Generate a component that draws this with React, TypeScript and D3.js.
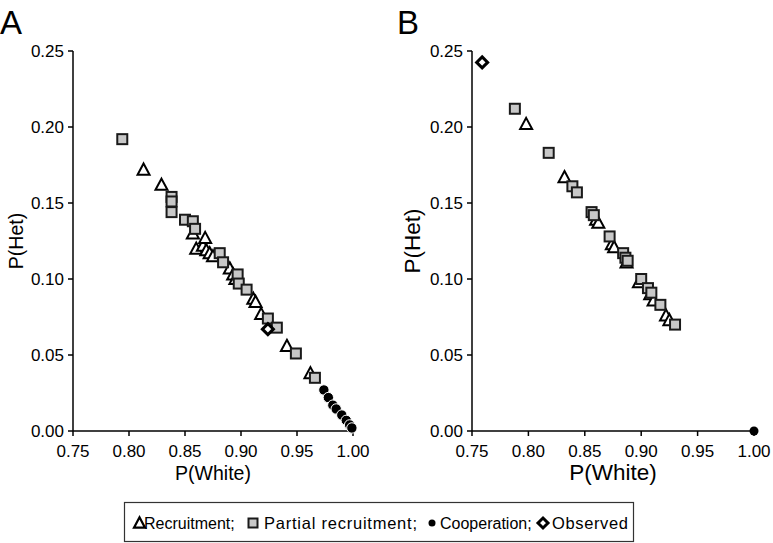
import React from "react";
import * as d3 from "d3";

const xTicks = [0.75, 0.8, 0.85, 0.9, 0.95, 1.0];
const yTicks = [0, 0.05, 0.1, 0.15, 0.2, 0.25];

const aRecruitment: [number, number][] = [
  [0.813, 0.172], [0.829, 0.162], [0.857, 0.130], [0.860, 0.120], [0.866, 0.122],
  [0.868, 0.127], [0.869, 0.119], [0.872, 0.117], [0.875, 0.115], [0.890, 0.107],
  [0.893, 0.103], [0.895, 0.100], [0.911, 0.087], [0.913, 0.085], [0.918, 0.077],
  [0.941, 0.056], [0.962, 0.038],
];
const aPartial: [number, number][] = [
  [0.794, 0.192], [0.838, 0.154], [0.838, 0.151], [0.838, 0.144], [0.850, 0.139],
  [0.857, 0.138], [0.859, 0.133], [0.881, 0.117], [0.884, 0.111], [0.897, 0.103],
  [0.898, 0.097], [0.905, 0.093], [0.924, 0.074], [0.932, 0.068], [0.949, 0.051],
  [0.966, 0.035],
];
const aCooperation: [number, number][] = [
  [0.974, 0.027], [0.978, 0.022], [0.982, 0.017], [0.985, 0.0145], [0.990, 0.0105],
  [0.994, 0.007], [0.997, 0.004], [0.999, 0.002],
];
const aObserved: [number, number][] = [[0.924, 0.067]];

const bRecruitment: [number, number][] = [
  [0.798, 0.202], [0.832, 0.167], [0.860, 0.139], [0.862, 0.137], [0.874, 0.123],
  [0.876, 0.121], [0.887, 0.111], [0.898, 0.098], [0.908, 0.090], [0.911, 0.086],
  [0.922, 0.076], [0.925, 0.073],
];
const bPartial: [number, number][] = [
  [0.788, 0.212], [0.818, 0.183], [0.839, 0.161], [0.843, 0.157], [0.856, 0.144],
  [0.858, 0.142], [0.872, 0.128], [0.884, 0.117], [0.886, 0.114], [0.888, 0.112],
  [0.900, 0.100], [0.906, 0.094], [0.909, 0.091], [0.917, 0.083], [0.930, 0.070],
];
const bCooperation: [number, number][] = [[1.0, 0.0]];
const bObserved: [number, number][] = [[0.759, 0.2425]];

const legendItems = ["Recruitment;", "Partial recruitment;", "Cooperation;", "Observed"];

const FONT = "'Liberation Sans', Arial, sans-serif";

const triPath = (cx: number, cy: number, s: number) => {
  const h = s * 0.85;
  return `M${cx},${cy - h / 2 - 1}L${cx + s / 2},${cy + h / 2}L${cx - s / 2},${cy + h / 2}Z`;
};
const diamondPath = (cx: number, cy: number, r: number) =>
  `M${cx},${cy - r}L${cx + r},${cy}L${cx},${cy + r}L${cx - r},${cy}Z`;

type PanelProps = {
  label: string;
  x0: number;
  x1: number;
  labelSize: number;
  labelX: number;
  recruitment: [number, number][];
  partial: [number, number][];
  cooperation: [number, number][];
  observed: [number, number][];
  coopOutline: boolean;
};

function Panel(p: PanelProps) {
  const x = d3.scaleLinear().domain([0.75, 1.0]).range([p.x0, p.x1]);
  const y = d3.scaleLinear().domain([0, 0.25]).range([431, 51]);
  const fmt = d3.format(".2f");
  return (
    <g>
      <text x={p.labelX} y={34} fontSize={33} fontFamily={FONT}>{p.label}</text>
      <line x1={p.x0} x2={p.x0} y1={y(0.25)} y2={y(0)} stroke="#000" strokeWidth={1.5} />
      <line x1={p.x0} x2={p.x1} y1={y(0)} y2={y(0)} stroke="#000" strokeWidth={1.5} />
      {yTicks.map((t) => (
        <g key={"y" + t}>
          <line x1={p.x0 - 5} x2={p.x0} y1={y(t)} y2={y(t)} stroke="#000" strokeWidth={1.5} />
          <text x={p.x0 - 9} y={y(t) + 6} textAnchor="end" fontSize={17} fontFamily={FONT}>{fmt(t)}</text>
        </g>
      ))}
      {xTicks.map((t) => (
        <g key={"x" + t}>
          <line x1={x(t)} x2={x(t)} y1={y(0)} y2={y(0) + 5} stroke="#000" strokeWidth={1.5} />
          <text x={x(t)} y={457} textAnchor="middle" fontSize={17} fontFamily={FONT}>{fmt(t)}</text>
        </g>
      ))}
      <text x={(p.x0 + p.x1) / 2} y={480} textAnchor="middle" fontSize={p.labelSize} fontFamily={FONT}>P(White)</text>
      <text
        transform={`translate(${p.x0 - 50 - (p.labelSize - 19) * 0.6},${(y(0) + y(0.25)) / 2}) rotate(-90)`}
        textAnchor="middle"
        fontSize={p.labelSize}
        fontFamily={FONT}
      >
        P(Het)
      </text>
      {p.recruitment.map((d, i) => (
        <path key={"r" + i} d={triPath(x(d[0]), y(d[1]), 12)} fill="#fff" stroke="#000" strokeWidth={2} strokeLinejoin="miter" />
      ))}
      {p.partial.map((d, i) => (
        <rect key={"p" + i} x={x(d[0]) - 5} y={y(d[1]) - 5} width={10} height={10} fill="#c8c8c8" stroke="#1a1a1a" strokeWidth={2} />
      ))}
      {p.cooperation.map((d, i) => (
        <circle key={"c" + i} cx={x(d[0])} cy={y(d[1])} r={p.coopOutline ? 5.2 : 4.5} fill="#000" stroke={p.coopOutline ? "#fff" : "none"} strokeWidth={1} />
      ))}
      {p.observed.map((d, i) => (
        <path key={"o" + i} d={diamondPath(x(d[0]), y(d[1]), 5.5)} fill="#fff" stroke="#000" strokeWidth={3} />
      ))}
    </g>
  );
}

export default function App() {
  const legendY = 529;
  return (
    <svg width={773} height={543} style={{ position: "absolute", left: 0, top: 0 }}>
      <rect x={0} y={0} width={773} height={543} fill="#fff" />
      <Panel
        label="A" x0={73} x1={353} labelSize={19.5} labelX={0}
        recruitment={aRecruitment} partial={aPartial} cooperation={aCooperation} observed={aObserved}
        coopOutline={true}
      />
      <Panel
        label="B" x0={472} x1={754} labelSize={22.5} labelX={397}
        recruitment={bRecruitment} partial={bPartial} cooperation={bCooperation} observed={bObserved}
        coopOutline={false}
      />
      <rect x={124.5} y={502.5} width={509} height={39} fill="none" stroke="#333" strokeWidth={1.2} />
      <path d={triPath(139.5, legendY - 6, 11)} fill="#fff" stroke="#000" strokeWidth={2.2} />
      <text x={144} y={legendY} fontSize={16} fontFamily={FONT}>{legendItems[0]}</text>
      <rect x={248.5} y={legendY - 10.5} width={9} height={9} fill="#c8c8c8" stroke="#1a1a1a" strokeWidth={2} />
      <text x={264} y={legendY} fontSize={16.5} fontFamily={FONT} textLength={153} lengthAdjust="spacing">{legendItems[1]}</text>
      <circle cx={432} cy={legendY - 6} r={3.5} fill="#000" />
      <text x={440} y={legendY} fontSize={16} fontFamily={FONT}>{legendItems[2]}</text>
      <path d={diamondPath(543, legendY - 6, 5)} fill="#fff" stroke="#000" strokeWidth={3} />
      <text x={552} y={legendY} fontSize={16.5} fontFamily={FONT} textLength={76} lengthAdjust="spacing">{legendItems[3]}</text>
    </svg>
  );
}
